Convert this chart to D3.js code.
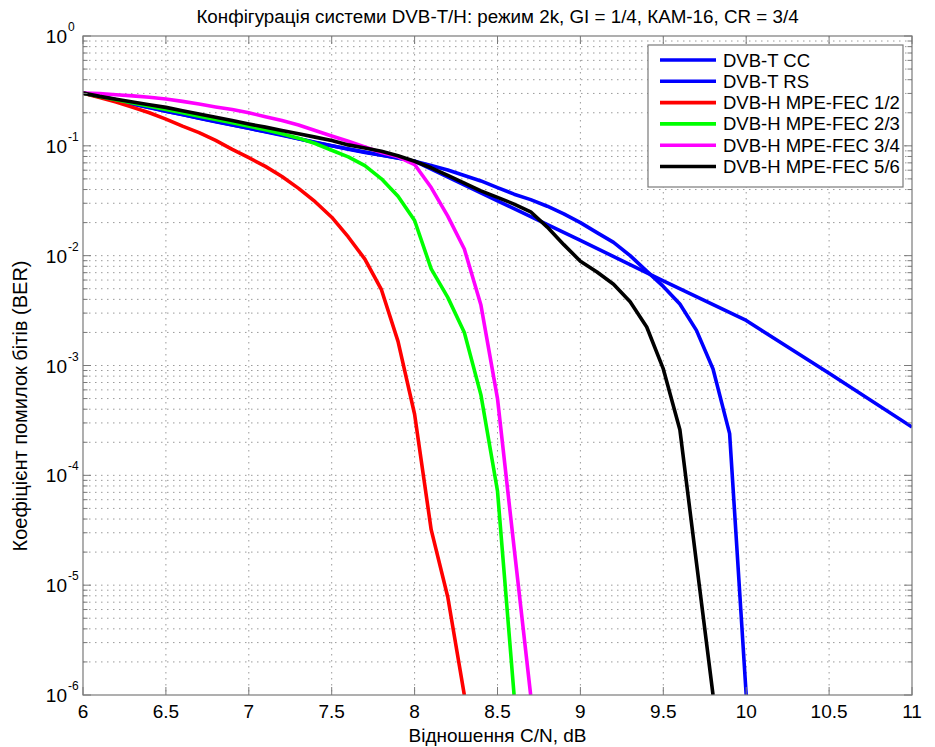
<!DOCTYPE html>
<html>
<head>
<meta charset="utf-8">
<script src="https://cdn.jsdelivr.net/npm/d3@7"></script>
<style>
html,body{margin:0;padding:0;background:#fff;}
svg text{font-family:"Liberation Sans",Arial,sans-serif;fill:#000;}
</style>
</head>
<body>
<svg id="chart" width="935" height="747"></svg>
<script>
// ---------- data (BER values) ----------
const titleText = "Конфігурація системи DVB-T/H: режим 2k, GI = 1/4, КАМ-16, CR = 3/4";
const xLabelText = "Відношення C/N, dB";
const yLabelText = "Коефіцієнт помилок бітів (BER)";

const xTicks = [6, 6.5, 7, 7.5, 8, 8.5, 9, 9.5, 10, 10.5, 11];
const xTickLabels = ["6", "6.5", "7", "7.5", "8", "8.5", "9", "9.5", "10", "10.5", "11"];
const yDecades = [0, -1, -2, -3, -4, -5, -6];

const legendNames = ["DVB-T CC", "DVB-T RS", "DVB-H MPE-FEC 1/2", "DVB-H MPE-FEC 2/3", "DVB-H MPE-FEC 3/4", "DVB-H MPE-FEC 5/6"];
const seriesColors = ["#0000ff", "#0000ff", "#ff0000", "#00ff00", "#ff00ff", "#000000"];

// DVB-T CC (waterfall curve down to 10 dB)
const ccX = [6.0,6.1,6.2,6.3,6.4,6.5,6.6,6.7,6.8,6.9,7.0,7.1,7.2,7.3,7.4,7.5,7.6,7.7,7.8,7.9,8.0,8.1,8.2,8.3,8.4,8.5,8.6,8.7,8.8,8.9,9.0,9.1,9.2,9.3,9.4,9.5,9.6,9.7,9.8,9.9,10.0];
const ccBER = [0.302,0.282,0.263,0.240,0.224,0.2065,0.193,0.178,0.166,0.155,0.1445,0.135,0.126,0.116,0.107,0.100,0.0933,0.0871,0.0822,0.0776,0.0724,0.0661,0.0603,0.0537,0.0479,0.0417,0.0363,0.0324,0.0282,0.0240,0.0200,0.0162,0.0132,0.0100,0.00724,0.00525,0.00363,0.00209,9.3e-4,2.4e-4,1.0e-6];

// DVB-T RS (near-straight line to 11 dB)
const rsX = [6.0,6.5,7.0,7.5,8.0,8.5,9.0,9.5,10.0,10.5,11.0];
const rsBER = [0.302,0.2065,0.1445,0.100,0.0724,0.0316,0.0138,0.00589,0.00257,8.5e-4,2.75e-4];

// DVB-H MPE-FEC 1/2
const fec12X = [6.0,6.1,6.2,6.3,6.4,6.5,6.6,6.7,6.8,6.9,7.0,7.1,7.2,7.3,7.4,7.5,7.6,7.7,7.8,7.9,8.0,8.1,8.2,8.3];
const fec12BER = [0.302,0.275,0.251,0.224,0.200,0.175,0.151,0.132,0.112,0.093,0.078,0.065,0.0525,0.041,0.031,0.0224,0.0148,0.0093,0.0049,0.00166,3.6e-4,3.2e-5,7.8e-6,1.0e-6];

// DVB-H MPE-FEC 2/3
const fec23X = [6.0,6.1,6.2,6.3,6.4,6.5,6.6,6.7,6.8,6.9,7.0,7.1,7.2,7.3,7.4,7.5,7.6,7.7,7.8,7.9,8.0,8.1,8.2,8.3,8.4,8.5,8.6];
const fec23BER = [0.302,0.282,0.263,0.245,0.229,0.214,0.200,0.186,0.174,0.162,0.151,0.140,0.129,0.1175,0.105,0.0912,0.0794,0.0661,0.0501,0.0347,0.0209,0.00759,0.00417,0.0020,5.4e-4,7.2e-5,1.0e-6];

// DVB-H MPE-FEC 3/4
const fec34X = [6.0,6.1,6.2,6.3,6.4,6.5,6.6,6.7,6.8,6.9,7.0,7.1,7.2,7.3,7.4,7.5,7.6,7.7,7.8,7.9,8.0,8.1,8.2,8.3,8.4,8.5,8.6,8.7];
const fec34BER = [0.302,0.2985,0.292,0.285,0.277,0.267,0.254,0.240,0.226,0.214,0.200,0.184,0.170,0.155,0.138,0.123,0.110,0.0977,0.0871,0.0794,0.0676,0.0417,0.0229,0.0115,0.00355,5.0e-4,2.2e-5,1.0e-6];

// DVB-H MPE-FEC 5/6
const fec56X = [6.0,6.1,6.2,6.3,6.4,6.5,6.6,6.7,6.8,6.9,7.0,7.1,7.2,7.3,7.4,7.5,7.6,7.7,7.8,7.9,8.0,8.1,8.2,8.3,8.4,8.5,8.6,8.7,8.8,8.9,9.0,9.1,9.2,9.3,9.4,9.5,9.6,9.7,9.8];
const fec56BER = [0.302,0.282,0.266,0.251,0.237,0.224,0.209,0.195,0.182,0.170,0.158,0.148,0.138,0.129,0.120,0.112,0.102,0.0955,0.0891,0.0813,0.0724,0.0631,0.0537,0.0457,0.0389,0.0339,0.0295,0.0251,0.0182,0.0126,0.0089,0.0071,0.0055,0.0038,0.00224,9.3e-4,2.6e-4,1.6e-5,1.0e-6];

const seriesX = [ccX, rsX, fec12X, fec23X, fec34X, fec56X];
const seriesY = [ccBER, rsBER, fec12BER, fec23BER, fec34BER, fec56BER];

// ---------- layout ----------
const W = 935, H = 747;
const plot = {left: 83, right: 912, top: 36, bottom: 695};
const FONT = 19;

const svg = d3.select("#chart");
const x = d3.scaleLinear().domain([6, 11]).range([plot.left, plot.right]);
const y = d3.scaleLog().domain([1e-6, 1]).range([plot.bottom, plot.top]);

svg.append("rect").attr("x",0).attr("y",0).attr("width",W).attr("height",H).attr("fill","#fff");

// clip
svg.append("defs").append("clipPath").attr("id","clip")
  .append("rect").attr("x",plot.left).attr("y",plot.top)
  .attr("width",plot.right-plot.left).attr("height",plot.bottom-plot.top);

// grid
const gridStyle = sel => sel.attr("stroke","#9a9a9a").attr("stroke-width",1).attr("stroke-dasharray","1.5,4.5").attr("fill","none");
const g = svg.append("g");
xTicks.slice(1, -1).forEach(v => {
  g.append("line").attr("x1",x(v)).attr("x2",x(v)).attr("y1",plot.top).attr("y2",plot.bottom).call(gridStyle);
});
const minorVals = [];
for (let e = -6; e < 0; e++) for (let m = 1; m <= 9; m++) minorVals.push(m * Math.pow(10, e));
minorVals.forEach(v => {
  if (v <= 1e-6 || v >= 1) return;
  g.append("line").attr("x1",plot.left).attr("x2",plot.right).attr("y1",y(v)).attr("y2",y(v)).call(gridStyle);
});

// series
const line = d3.line().x(d => x(d[0])).y(d => y(d[1]));
const lines = svg.append("g").attr("clip-path","url(#clip)");
seriesX.forEach((xs, i) => {
  const pts = xs.map((v, j) => [v, seriesY[i][j]]);
  lines.append("path").datum(pts).attr("d", line)
    .attr("fill","none").attr("stroke",seriesColors[i]).attr("stroke-width",3.6)
    .attr("stroke-linejoin","round").attr("stroke-linecap","butt");
});

// axes box
const axisColor = "#7a7a7a";
svg.append("rect").attr("x",plot.left).attr("y",plot.top)
  .attr("width",plot.right-plot.left).attr("height",plot.bottom-plot.top)
  .attr("fill","none").attr("stroke",axisColor).attr("stroke-width",1.2);

// x ticks (inside, bottom & top)
const ticks = svg.append("g").attr("stroke",axisColor).attr("stroke-width",1);
xTicks.forEach(v => {
  ticks.append("line").attr("x1",x(v)).attr("x2",x(v)).attr("y1",plot.bottom).attr("y2",plot.bottom-8);
  ticks.append("line").attr("x1",x(v)).attr("x2",x(v)).attr("y1",plot.top).attr("y2",plot.top+8);
});
// y ticks
minorVals.concat([1]).forEach(v => {
  const isMajor = Math.abs(Math.log10(v) - Math.round(Math.log10(v))) < 1e-9;
  const len = isMajor ? 8 : 4.5;
  ticks.append("line").attr("x1",plot.left).attr("x2",plot.left+len).attr("y1",y(v)).attr("y2",y(v));
  ticks.append("line").attr("x1",plot.right).attr("x2",plot.right-len).attr("y1",y(v)).attr("y2",y(v));
});

// x tick labels
svg.append("g").selectAll("text").data(xTicks).join("text")
  .attr("x", d => x(d)).attr("y", plot.bottom + 23)
  .attr("text-anchor","middle").attr("font-size",FONT)
  .text((d, i) => xTickLabels[i]);

// y tick labels 10^e
const yl = svg.append("g");
yDecades.forEach(e => {
  yl.append("text").attr("x", plot.left - 16).attr("y", y(Math.pow(10, e)) + 7)
    .attr("text-anchor","end").attr("font-size",FONT).text("10");
  yl.append("text").attr("x", plot.left - 15).attr("y", y(Math.pow(10, e)) - 5)
    .attr("text-anchor","start").attr("font-size",12).text(String(e));
});

// title and axis labels
svg.append("text").attr("x",(plot.left+plot.right)/2).attr("y",23)
  .attr("text-anchor","middle").attr("font-size",18.8).text(titleText);
svg.append("text").attr("x",(plot.left+plot.right)/2).attr("y",742)
  .attr("text-anchor","middle").attr("font-size",FONT).text(xLabelText);
svg.append("text").attr("transform","translate(27,406) rotate(-90)")
  .attr("text-anchor","middle").attr("font-size",20).text(yLabelText);

// legend
const leg = {x: 648, y: 45, w: 255, h: 142};
svg.append("rect").attr("x",leg.x).attr("y",leg.y).attr("width",leg.w).attr("height",leg.h)
  .attr("fill","#fff").attr("stroke",axisColor).attr("stroke-width",1.2);
legendNames.forEach((name, i) => {
  const cy = leg.y + 15 + i * 21.3;
  svg.append("line").attr("x1",leg.x+12).attr("x2",leg.x+68).attr("y1",cy).attr("y2",cy)
    .attr("stroke",seriesColors[i]).attr("stroke-width",3.6);
  svg.append("text").attr("x",leg.x+75).attr("y",cy+6.5).attr("font-size",18.5).text(name);
});
</script>
</body>
</html>
